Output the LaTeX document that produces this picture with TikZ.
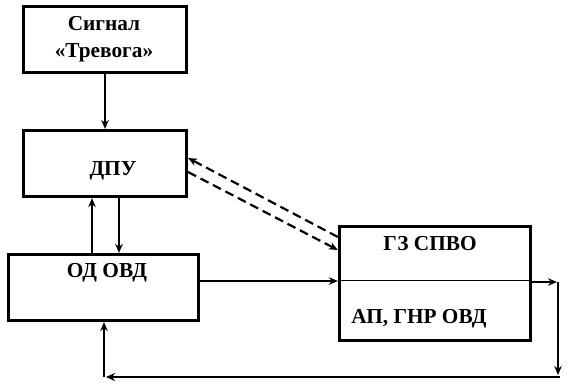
\documentclass[tikz,border=0pt]{standalone}
\usepackage{fontspec}
\setmainfont{Liberation Serif}
\usetikzlibrary{arrows.meta}
\begin{document}
\begin{tikzpicture}[x=1pt,y=-1pt,
  box/.style={draw,line width=3.2pt,inner sep=0pt},
  lbl/.style={font=\fontsize{21.3}{27}\selectfont\bfseries,align=center,inner sep=0pt},
  arr/.style={line width=2pt,-{Stealth[length=9pt,width=7.5pt]}},
  darr/.style={line width=2.2pt,dash pattern=on 9pt off 5pt,-{Stealth[length=9pt,width=7.5pt]}}]
\useasboundingbox (0,0) rectangle (569,386);
\fill[white] (0,0) rectangle (569,386);
% boxes
\node[box,minimum width=163pt,minimum height=66pt] (sig) at (105,39.5) {};
\node[box,minimum width=163pt,minimum height=66pt] (dpu) at (105,163.5) {};
\node[box,minimum width=190pt,minimum height=66pt] (od) at (103.5,287.5) {};
\node[box,minimum width=191pt,minimum height=114pt] (gz) at (435,283.5) {};
% texts
\node[lbl] (sigt) at (104,39) {Сигнал\\«Тревога»};
\node[lbl] (dput) at (113,171) {ДПУ};
\node[lbl] (odt) at (107,273) {ОД ОВД};
\node[lbl] (gzt) at (430,244) {ГЗ СПВО};
\node[lbl] (apt) at (419,319) {АП, ГНР ОВД};
% coordinates
\coordinate (r1) at (557,282);
\coordinate (r2) at (558,375);
\coordinate (r3) at (560,377);
\coordinate (b1) at (106,377);
\coordinate (b2) at (104,377);
% connectors
\draw[arr] (sig.south) -- (dpu.north);
\draw[arr] (92,0 |- od.north) -- (92,0 |- dpu.south);
\draw[arr] (119,0 |- dpu.south) -- (119,0 |- od.north);
\draw[arr] (od.east |- 0,281) -- (gz.west |- 0,281);
\draw[line width=0.8pt] (gz.west |- 0,280) -- (gz.east |- 0,280);
\draw[arr] (gz.east |- 0,282) -- (r1);
\draw[arr] (558,282) -- (r2);
\draw[line width=2.6pt,-{Stealth[length=9pt,width=8pt]}] (r3) -- (b1);
\draw[arr] (b2) -- (b2 |- od.south);
\draw[darr] (gz.west |- 0,237) -- (dpu.east |- 0,158);
\draw[darr] (dpu.east |- 0,172) -- (gz.west |- 0,250);
\end{tikzpicture}
\end{document}
